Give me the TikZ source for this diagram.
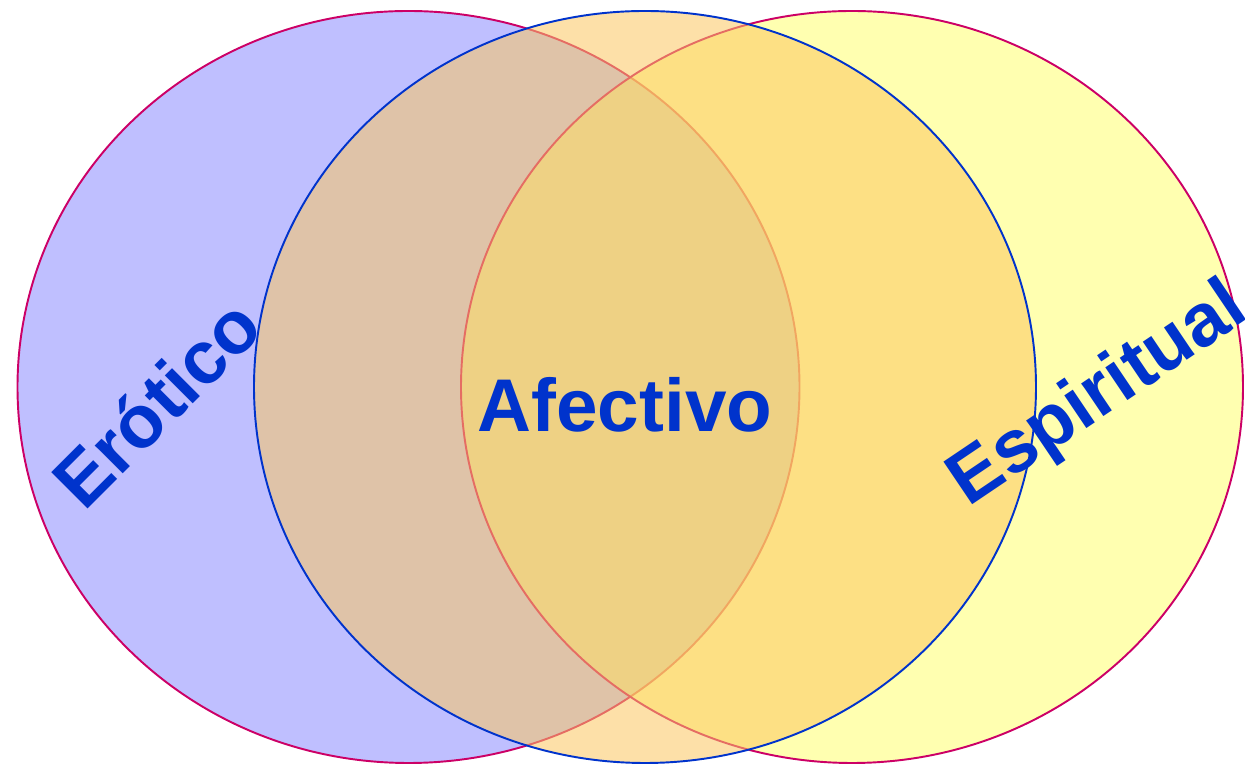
\documentclass[tikz,border=0pt]{standalone}
\usepackage{fontspec}
\setmainfont{Liberation Sans}
\usepackage{tikz}

\definecolor{lavanda}{RGB}{191,191,255}
\definecolor{amarillo}{RGB}{255,255,97}
\definecolor{naranja}{RGB}{251,199,97}
\definecolor{borde}{RGB}{204,0,102}
\definecolor{azul}{RGB}{0,51,204}

\tikzset{etiqueta/.style={anchor=base, inner sep=0pt, text=azul,
        font=\bfseries\fontsize{42.5}{50}\selectfont}}

\begin{document}
\begin{tikzpicture}
        \useasboundingbox (0,0) rectangle (24.9,15.3);
        \filldraw[fill=lavanda, draw=borde, line width=1.1pt] (8.17,7.56) ellipse (7.82 and 7.52);
        \filldraw[fill=amarillo, fill opacity=0.5, draw=borde, line width=1.1pt] (17.04,7.56) ellipse (7.82 and 7.52);
        \filldraw[fill=naranja, fill opacity=0.55, draw=azul, line width=1.1pt] (12.9,7.56) ellipse (7.82 and 7.52);
        \node[etiqueta, rotate=45] (erotico) at (3.50,6.86) {Erótico};
        \node[etiqueta] (afectivo) at (12.5,6.66) {Afectivo};
        \node[etiqueta, rotate=34] (espiritual) at (22.2,7.05) {Espiritual};
\end{tikzpicture}
\end{document}
